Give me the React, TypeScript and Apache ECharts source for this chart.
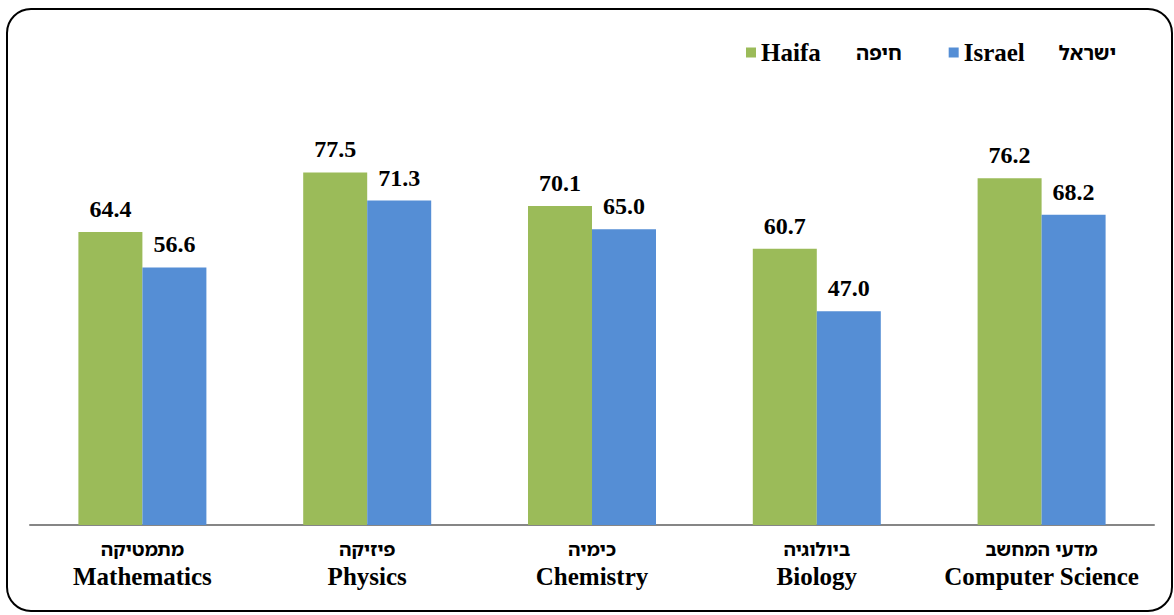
import React, { useEffect, useRef } from "react";
import * as echarts from "echarts";

const categoriesHe = ["מתמטיקה", "פיזיקה", "כימיה", "ביולוגיה", "מדעי המחשב"];
const categoriesEn = ["Mathematics", "Physics", "Chemistry", "Biology", "Computer Science"];
const haifaValues = [64.4, 77.5, 70.1, 60.7, 76.2];
const israelValues = [56.6, 71.3, 65.0, 47.0, 68.2];
const seriesNames = ["Haifa", "Israel"];
const seriesNamesHe = ["חיפה", "ישראל"];

const FONT = "Liberation Serif";
const HE_FONT = "Noto Sans Hebrew";

export default function App() {
  const ref = useRef<HTMLDivElement>(null);
  useEffect(() => {
    if (!ref.current) return;
    const chart = echarts.init(ref.current, null, { renderer: "svg" });
    const labelStyle = {
      show: true,
      position: "top" as const,
      distance: 11,
      fontFamily: FONT,
      fontWeight: "bold" as const,
      fontSize: 24,
      color: "#000",
      formatter: (p: any) => Number(p.value).toFixed(1),
    };
    chart.setOption({
      animation: false,
      backgroundColor: "#fff",
      graphic: [
        {
          type: "rect",
          shape: { x: 7, y: 9, width: 1165, height: 602, r: 24 },
          style: { fill: "none", stroke: "#000", lineWidth: 2 },
          silent: true,
        },
      ],
      legend: {
        left: 741,
        top: 35,
        icon: "rect",
        itemWidth: 10,
        itemHeight: 10,
        itemGap: 47,
        data: seriesNames,
        formatter: (name: string) => {
          const i = seriesNames.indexOf(name);
          return "{en|" + name + "}{he|" + seriesNamesHe[i] + "}";
        },
        textStyle: {
          fontFamily: FONT,
          fontWeight: "bold",
          fontSize: 25,
          color: "#000",
          rich: {
            en: { width: 95, fontFamily: FONT, fontWeight: "bold", fontSize: 25, color: "#000" },
            he: { fontFamily: HE_FONT, fontWeight: "bold", fontSize: 20, color: "#000" },
          },
        },
      },
      grid: { left: 30, right: 20, top: 70, bottom: 90, containLabel: false },
      xAxis: {
        type: "category",
        data: categoriesEn,
        axisLine: { lineStyle: { color: "#868686", width: 2 } },
        axisTick: { length: 6, lineStyle: { color: "#868686", width: 2 } },
        axisLabel: {
          margin: 13,
          interval: 0,
          color: "#000",
          formatter: (v: string) => {
            const i = categoriesEn.indexOf(v);
            return "{he|" + categoriesHe[i] + "}\n{en|" + v + "}";
          },
          rich: {
            he: { fontFamily: HE_FONT, fontWeight: "bold", fontSize: 19, lineHeight: 22, color: "#000" },
            en: { fontFamily: FONT, fontWeight: "bold", fontSize: 25, lineHeight: 32, color: "#000" },
          },
        },
      },
      yAxis: {
        type: "value",
        min: 0,
        max: 100,
        show: false,
        splitLine: { show: false },
      },
      series: [
        {
          name: seriesNames[0],
          type: "bar",
          data: haifaValues,
          itemStyle: { color: "#9BBB59" },
          barWidth: 64,
          barGap: "0%",
          label: labelStyle,
        },
        {
          name: seriesNames[1],
          type: "bar",
          data: israelValues,
          itemStyle: { color: "#558ED5" },
          barWidth: 64,
          barGap: "0%",
          label: labelStyle,
        },
      ],
    });
    return () => chart.dispose();
  }, []);
  return (
    <div
      ref={ref}
      style={{ position: "fixed", left: 0, top: 0, width: 1174, height: 615, background: "#fff" }}
    />
  );
}
